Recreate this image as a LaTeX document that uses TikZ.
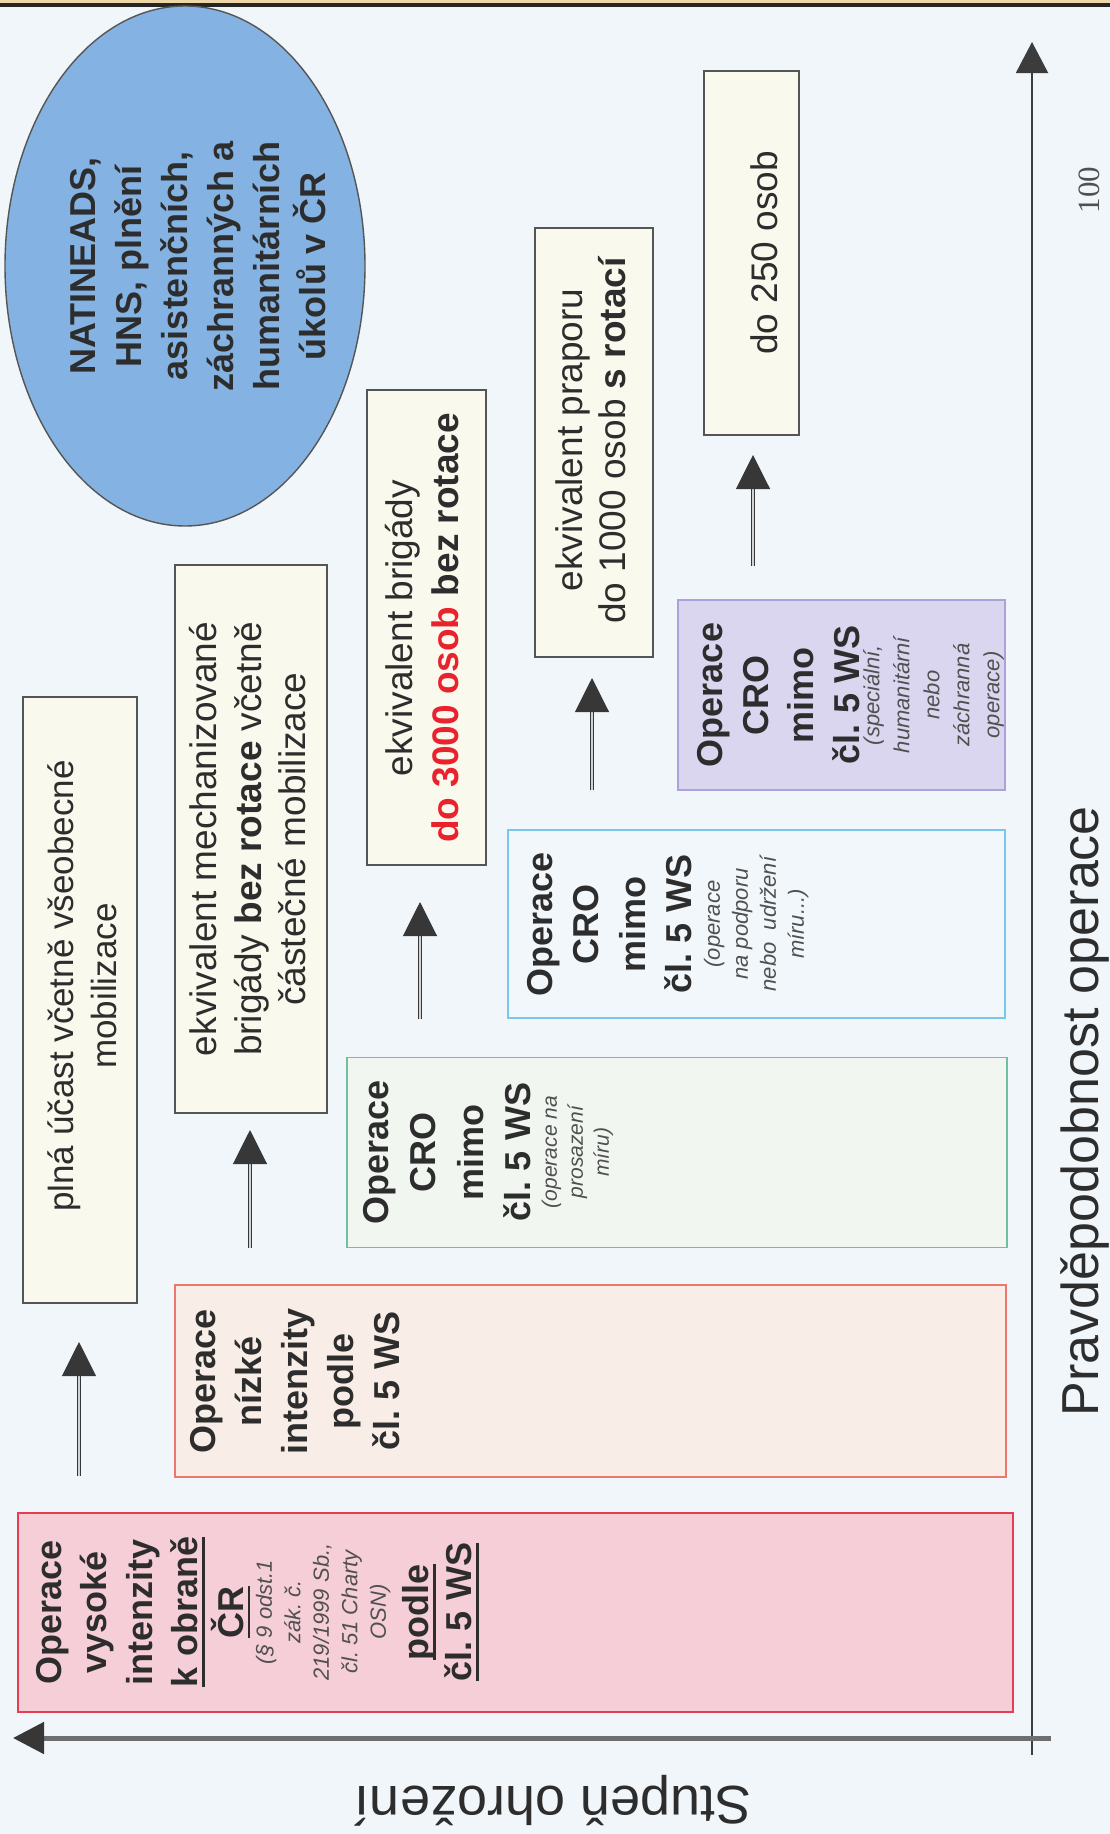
\documentclass[tikz,border=0pt]{standalone}
\usepackage{fontspec}
\setmainfont{Liberation Sans}
\newfontfamily\numfont{Liberation Serif}
\usetikzlibrary{arrows.meta,shapes.geometric}
\definecolor{bgc}{RGB}{240,246,250}
\definecolor{tanc}{RGB}{238,214,166}
\definecolor{ellfill}{RGB}{132,178,226}
\definecolor{edgegray}{RGB}{85,85,85}
\definecolor{cream}{RGB}{250,249,238}
\definecolor{txtc}{RGB}{45,45,45}
\definecolor{smallc}{RGB}{80,80,80}
\definecolor{redtxt}{RGB}{232,35,45}
\definecolor{Bfill}{RGB}{248,238,231}
\definecolor{Bdraw}{RGB}{236,120,108}
\definecolor{Cfill}{RGB}{245,206,216}
\definecolor{Cdraw}{RGB}{232,60,80}
\definecolor{Dfill}{RGB}{241,246,241}
\definecolor{Ddraw}{RGB}{112,192,160}
\definecolor{Efill}{RGB}{241,247,251}
\definecolor{Edraw}{RGB}{120,200,236}
\definecolor{Ffill}{RGB}{218,214,240}
\definecolor{Fdraw}{RGB}{172,162,218}
\definecolor{axisc}{RGB}{60,60,60}
\definecolor{haxisc}{RGB}{110,110,110}
\definecolor{shaftc}{RGB}{210,210,210}
\definecolor{headc}{RGB}{55,55,55}
\newcommand\myul[1]{\leavevmode\setbox0=\hbox{#1}\rlap{\vrule width\wd0 height -4.5pt depth 7pt}\box0}
\newcommand\wsp{\kern.28em }
\begin{document}
\begin{tikzpicture}[x=1pt,y=-1pt,
  box/.style={inner sep=0pt, outer sep=0pt, line width=1.4pt},
  descbox/.style={box, draw=edgegray, fill=cream},
  dtxt/.style={rotate=90, inner sep=0pt, align=flush center, text=txtc, font=\fontsize{37}{44}\selectfont},
  otxt/.style={rotate=90, anchor=north, inner sep=0pt, align=flush center, text=txtc},
  upar/.style={draw=headc, line width=1.1pt, double=shaftc, double distance=2.6pt, -{Triangle[length=34pt,width=34pt]}},
]
\fill[bgc] (0,0) rectangle (1110,1834);
\useasboundingbox (0,0) rectangle (1110,1834);
\fill[tanc] (0,0) rectangle (1110,3);
\fill[black!85] (0,3) rectangle (1110,6.5);

% ellipse
\node[ellipse, draw=edgegray, line width=1.4pt, fill=ellfill, minimum width=360pt, minimum height=520pt, inner sep=0pt] (ell) at (185,266) {};
\node[rotate=90, inner sep=0pt, align=flush center, text width=330pt, text=txtc, font=\fontsize{36}{46}\selectfont\bfseries] (ellT) at (198,266) {NATINEADS,\\HNS, plnění\\asistenčních,\\záchranných a\\humanitárních\\úkolů v ČR};

% description boxes
\node[descbox, minimum width=114pt, minimum height=606pt] (boxA) at (80,1000) {};
\node[descbox, minimum width=152pt, minimum height=548pt] (boxG) at (251,839) {};
\node[descbox, minimum width=119pt, minimum height=475pt] (boxH) at (426.5,627.5) {};
\node[descbox, minimum width=118pt, minimum height=429pt] (boxI) at (594,442.5) {};
\node[descbox, minimum width=95pt, minimum height=364pt] (boxJ) at (751.5,253) {};

\node[dtxt, text width=560pt, font=\fontsize{35}{43}\selectfont] (txtA) at (82,986) {plná účast včetně všeobecné\\mobilizace};
\node[dtxt, text width=520pt, font=\fontsize{37}{44.5}\selectfont] (txtG) at (248,839) {ekvivalent mechanizované\\brigády \textbf{bez rotace} včetně\\částečné mobilizace};
\node[dtxt, text width=450pt, font=\fontsize{37}{45.5}\selectfont] (txtH) at (422,628) {ekvivalent brigády\\\textbf{\textcolor{redtxt}{do 3000 osob} bez rotace}};
\node[dtxt, text width=400pt, font=\fontsize{37}{43.5}\selectfont] (txtI) at (591,440) {ekvivalent praporu\\do 1000 osob \textbf{s rotací}};
\node[dtxt, text width=340pt] (txtJ) at (764,253) {do 250 osob};

% operation boxes
\node[box, draw=Cdraw, fill=Cfill, minimum width=995pt, minimum height=199pt] (boxC) at (515.5,1612.5) {};
\node[box, draw=Bdraw, fill=Bfill, minimum width=831pt, minimum height=192pt] (boxB) at (590.5,1381) {};
\node[box, draw=Ddraw, fill=Dfill, minimum width=660pt, minimum height=190pt] (boxD) at (677,1152.5) {};
\node[box, draw=Edraw, fill=Efill, minimum width=497pt, minimum height=188pt] (boxE) at (756.5,924) {};
\node[box, draw=Fdraw, fill=Ffill, minimum width=327pt, minimum height=190pt] (boxF) at (841.5,695) {};

\node[otxt, text width=190pt] (txtC) at (36,1612) {%
{\fontsize{36}{45.5}\selectfont\bfseries Operace\\vysoké\\intenzity\\\myul{k\wsp obraně}\\\myul{ČR}\par}%
{\fontsize{22}{28.5}\selectfont\itshape\color{smallc}(§\wsp 9\wsp odst.1\\zák.\wsp č.\\219/1999\wsp Sb.,\\čl.\wsp 51\wsp Charty\\OSN)\par}%
{\fontsize{36}{43}\selectfont\bfseries\myul{podle}\\\myul{čl.\wsp 5\wsp WS}\par}};
\node[otxt, text width=185pt] (txtB) at (190,1381) {{\fontsize{36}{46}\selectfont\bfseries Operace\\nízké\\intenzity\\podle\\čl.\wsp 5\wsp WS\par}};
\node[otxt, text width=180pt] (txtD) at (363,1152) {%
{\fontsize{36}{47.5}\selectfont\bfseries Operace\\CRO\\mimo\\čl.\wsp 5\wsp WS\par}%
{\fontsize{21}{26}\selectfont\itshape\color{smallc}(operace\wsp na\\prosazení\\míru)\par}};
\node[otxt, text width=180pt] (txtE) at (527,924) {%
{\fontsize{36}{46.5}\selectfont\bfseries Operace\\CRO\\mimo\\čl.\wsp 5\wsp WS\par}%
{\fontsize{22}{28}\selectfont\itshape\color{smallc}(operace\\na\wsp podporu\\nebo\wsp\wsp udržení\\míru...)\par}};
\node[otxt, text width=180pt] (txtF) at (697,695) {%
{\fontsize{36}{45.7}\selectfont\bfseries Operace\\CRO\\mimo\\čl.\wsp 5\wsp WS\par}%
{\fontsize{22}{30}\selectfont\itshape\color{smallc}\vskip-10pt (speciální,\\humanitární\\nebo\\záchranná\\operace)\par}};

% step arrows
\coordinate (a1s) at (79,1476);  \coordinate (a1e) at (79,1342);
\coordinate (a2s) at (250,1248); \coordinate (a2e) at (250,1130);
\coordinate (a3s) at (420,1019); \coordinate (a3e) at (420,902);
\coordinate (a4s) at (592,790);  \coordinate (a4e) at (592,678);
\coordinate (a5s) at (753,566);  \coordinate (a5e) at (753,455);
\draw[upar] (a1s) -- (a1e);
\draw[upar] (a2s) -- (a2e);
\draw[upar] (a3s) -- (a3e);
\draw[upar] (a4s) -- (a4e);
\draw[upar] (a5s) -- (a5e);

% axes
\coordinate (vbot) at (1032,1755); \coordinate (vtop) at (1032,42);
\draw[line width=2pt, axisc, -{Triangle[length=31pt,width=32pt]}] (vbot) -- (vtop);
\coordinate (hr) at (1051,1738); \coordinate (hl) at (13,1738);
\draw[line width=5pt, haxisc, -{Triangle[length=31pt,width=31pt,color=headc]}] (hr) -- (hl);

\node[rotate=90, inner sep=0pt, text=txtc, font=\fontsize{52}{60}\selectfont] (xlab) at (1085,1111) {Pravděpodobnost operace};
\node[rotate=180, inner sep=0pt, text=txtc, font=\fontsize{54}{60}\selectfont] (ylab) at (553,1801) {Stupeň ohrožení};
\node[rotate=90, inner sep=0pt, text=smallc, font=\numfont\fontsize{31}{33}\selectfont] (hundred) at (1089,190) {100};
\end{tikzpicture}
\end{document}
